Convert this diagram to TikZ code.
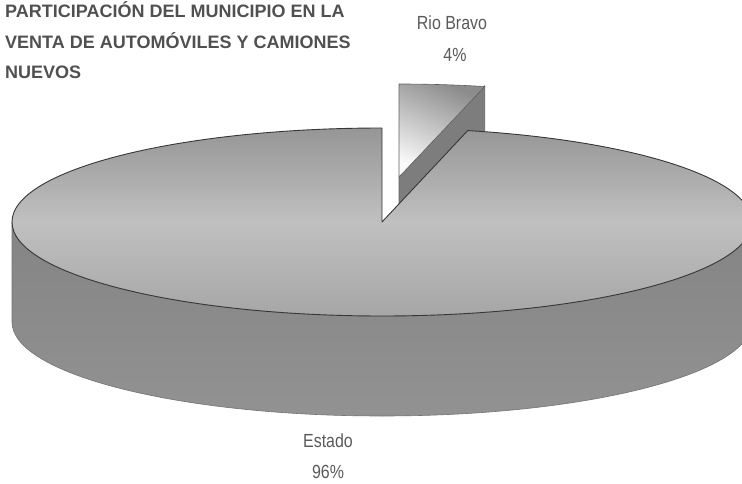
\documentclass[tikz,border=0pt]{standalone}
\usepackage{fontspec}
\setmainfont{Liberation Sans}
\usetikzlibrary{calc}
\definecolor{titlegray}{RGB}{80,80,80}
\definecolor{labelgray}{RGB}{90,90,90}
\definecolor{topA}{RGB}{150,150,150}
\definecolor{topB}{RGB}{192,192,192}
\definecolor{topC}{RGB}{166,166,166}
\definecolor{sideA}{RGB}{132,132,132}
\definecolor{sideB}{RGB}{146,146,146}
\definecolor{sliceA}{RGB}{140,140,140}
\definecolor{sliceB}{RGB}{250,250,250}
\definecolor{cutA}{RGB}{125,125,125}
\definecolor{edge}{RGB}{55,55,55}
\tikzset{
  titletext/.style={anchor=base west, inner sep=0pt, text=titlegray, font=\bfseries\fontsize{18}{22}\selectfont},
  labeltext/.style={anchor=base, inner sep=0pt, text=labelgray, font=\fontsize{19}{22}\selectfont},
  topface/.style={top color=topA, bottom color=topC, middle color=topB, draw=edge, line width=0.9pt, line join=round},
  sideface/.style={top color=sideA, bottom color=sideB, draw=edge!70, line width=0.6pt, line join=round},
  slicetop/.style={top color=sliceA, bottom color=sliceB, shading angle=-25, draw=edge!80, line width=0.6pt, line join=round},
  slicecut/.style={fill=cutA, draw=edge!80, line width=0.6pt, line join=round}
}
\begin{document}
\begin{tikzpicture}[x=1pt,y=1pt]
\useasboundingbox (0,0) rectangle (742,483);
\clip (0,0) rectangle (742,483);
% geometry
\coordinate (C) at (382,261);
\coordinate (T) at (399,306);
\coordinate (B) at ($(T)+(76.6:370pt and 94pt)$);
% exploded slice (Rio Bravo)
\path[slicecut] (T) -- (B) -- ($(B)+(0,-100)$) -- ($(T)+(0,-100)$) -- cycle;
\path[slicetop] (T) -- ($(T)+(0,93)$) arc[start angle=90, end angle=76.6, x radius=370pt, y radius=93pt] -- cycle;
% main slice (Estado): side
\path[sideface] ($(C)+(-370,0)$) arc[start angle=180, end angle=360, x radius=370pt, y radius=94pt]
   -- ++(0,-100) arc[start angle=0, end angle=-180, x radius=370pt, y radius=94pt] -- cycle;
% main slice: top face with notch
\path[topface] (C) -- ($(C)+(0,94)$) arc[start angle=90, end angle=436.6, x radius=370pt, y radius=94pt] -- cycle;
% texts
\node[titletext] (title1) at (5,465) {PARTICIPACIÓN DEL MUNICIPIO EN LA};
\node[titletext] (title2) at (5,434) {VENTA DE AUTOMÓVILES Y CAMIONES};
\node[titletext] (title3) at (5,404) {NUEVOS};
\node[labeltext] (rio) at (452,453) {\scalebox{0.84}[1]{Rio Bravo}};
\node[labeltext] (rioP) at (455,421) {\scalebox{0.84}[1]{4\%}};
\node[labeltext] (est) at (328,36) {\scalebox{0.84}[1]{Estado}};
\node[labeltext] (estP) at (328,5) {\scalebox{0.84}[1]{96\%}};
\end{tikzpicture}
\end{document}
